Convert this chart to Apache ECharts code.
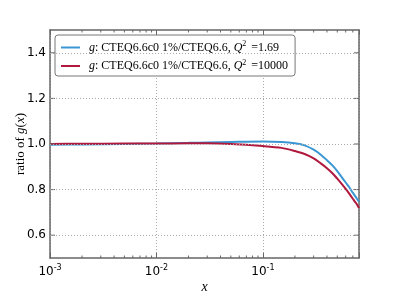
<!DOCTYPE html>
<html><head><meta charset="utf-8">
<script src="https://cdn.jsdelivr.net/npm/echarts@6/dist/echarts.min.js"></script>
<style>html,body{margin:0;padding:0;background:#fff}#c{width:399px;height:299px}</style>
</head><body><div id="c"></div>
<script>
const xValues = [0.001,0.002,0.005,0.01,0.02,0.03,0.05,0.1,0.15,0.2,0.25,0.3,0.35,0.4,0.45,0.5,0.55,0.6,0.65,0.7,0.75,0.8];
const lowQ  = [0.997,0.998,1.000,1.002,1.005,1.007,1.009,1.011,1.009,1.003,0.993,0.975,0.953,0.929,0.906,0.881,0.855,0.831,0.809,0.786,0.766,0.747];
const highQ = [1.000,1.001,1.002,1.002,1.003,1.003,1.000,0.991,0.983,0.969,0.955,0.937,0.915,0.894,0.872,0.848,0.825,0.803,0.781,0.760,0.741,0.719];
const yTicks = [0.6,0.8,1.0,1.2,1.4];
const minorX = [2e-3,3e-3,4e-3,5e-3,6e-3,7e-3,8e-3,9e-3,2e-2,3e-2,4e-2,5e-2,6e-2,7e-2,8e-2,9e-2,0.2,0.3,0.4,0.5,0.6,0.7];
const seriesNames = ['g1.69','g10000'];
const q2Labels = ['1.69','10000'];

const chart = echarts.init(document.getElementById('c'));
const frame = '#666';
const serif = '"Liberation Serif", serif';
const sans = '"DejaVu Sans", sans-serif';
function logLabel(v){
  const e = Math.round(Math.log10(v));
  if (Math.abs(v - Math.pow(10,e)) / v > 1e-6) return '';
  return '10{sup|' + e + '}';
}
const xAxisBase = {
  type:'log', logBase:10, min:0.001, max:0.8,
  axisLine:{show:true, onZero:false, lineStyle:{color:frame, width:1.5}},
  axisTick:{show:true, inside:true, length:5, lineStyle:{color:frame}},
  splitLine:{show:false}
};
const yAxisBase = {
  type:'value', min:0.5, max:1.5, interval:0.1,
  axisLine:{show:true, lineStyle:{color:frame, width:1.5}},
  axisTick:{show:false},
  splitLine:{show:false}
};
chart.setOption({
  animation:false,
  grid:{left:50, right:40, top:30, bottom:38},
  legend:{
    left:55, top:35, orient:'vertical',
    padding:[5,7,4,6], itemGap:5, itemWidth:19, itemHeight:2,
    borderColor:'#777', borderWidth:1, borderRadius:3, backgroundColor:'#fff',
    icon:'rect',
    formatter:function(name){
      const i = seriesNames.indexOf(name);
      return '{g|g}{n|: CTEQ6.6c0 1%/CTEQ6.6, }{i|Q}{s|2}{n| =' + q2Labels[i] + '}';
    },
    textStyle:{
      fontFamily:serif, fontSize:12, color:'#000',
      rich:{
        g:{fontFamily:serif, fontStyle:'italic', fontSize:12, color:'#000', padding:[0,0,0,4]},
        i:{fontFamily:serif, fontStyle:'italic', fontSize:12, color:'#000'},
        n:{fontFamily:serif, fontSize:12, color:'#000'},
        s:{fontFamily:serif, fontSize:8, color:'#000', verticalAlign:'bottom', padding:[0,2,7,0]}
      }
    }
  },
  xAxis:[
    Object.assign({}, xAxisBase, {
      position:'bottom',
      name:'{i|x}', nameLocation:'middle', nameGap:22, nameMoveOverlap:false,
      nameTextStyle:{rich:{i:{fontFamily:serif, fontStyle:'italic', fontSize:14, color:'#000'}}},
      axisLabel:{formatter:logLabel, margin:6, color:'#000', fontFamily:sans, fontSize:12,
        rich:{sup:{fontFamily:sans, fontSize:8, color:'#000', verticalAlign:'bottom', padding:[0,0,8,0]}}},
      splitLine:{show:true, lineStyle:{color:'#aaa', type:[1,2], width:1}}
    }),
    Object.assign({}, xAxisBase, {position:'top', axisLabel:{show:false}})
  ],
  yAxis:[
    Object.assign({}, yAxisBase, {
      position:'left',
      name:'{n|ratio of }{i|g}{n|(}{i|x}{n|)}', nameLocation:'middle', nameGap:23, nameMoveOverlap:false,
      nameTextStyle:{rich:{
        n:{fontFamily:serif, fontSize:13, color:'#000'},
        i:{fontFamily:serif, fontStyle:'italic', fontSize:13, color:'#000'}}},
      axisLabel:{color:'#000', fontFamily:sans, fontSize:12, margin:4,
        formatter:function(v){
          const r = Math.round(v*10)/10;
          return yTicks.some(t=>Math.abs(t-r)<1e-9) ? r.toFixed(1) : '';
        }}
    }),
    Object.assign({}, yAxisBase, {position:'right', axisLabel:{show:false}})
  ],
  series:[
    {
      name:seriesNames[0], type:'line', smooth:0.3, showSymbol:false, symbol:'none',
      data:xValues.map((x,i)=>[x,lowQ[i]]),
      lineStyle:{color:'#3a97d3', width:2}, itemStyle:{color:'#3a97d3'}, z:3,
      markLine:{
        silent:true, symbol:'none', label:{show:false}, animation:false,
        lineStyle:{color:'#aaa', type:[1,2], width:1},
        data:yTicks.map(t=>({yAxis:t}))
      }
    },
    {
      name:seriesNames[1], type:'line', smooth:0.3, showSymbol:false, symbol:'none',
      data:xValues.map((x,i)=>[x,highQ[i]]),
      lineStyle:{color:'#b1183d', width:2}, itemStyle:{color:'#b1183d'}, z:3
    },
    {
      type:'custom', silent:true, z:4,
      data:yTicks.map(t=>[t]),
      renderItem:function(params, api){
        const y = api.coord([0.001, api.value(0)])[1];
        const r = params.coordSys;
        return {type:'group', children:[
          {type:'line', shape:{x1:r.x, y1:y, x2:r.x+5, y2:y}, style:{stroke:frame, lineWidth:1}},
          {type:'line', shape:{x1:r.x+r.width, y1:y, x2:r.x+r.width-5, y2:y}, style:{stroke:frame, lineWidth:1}}
        ]};
      }
    },
    {
      type:'custom', silent:true, z:4,
      data:minorX.map(v=>[v]),
      renderItem:function(params, api){
        const x = api.coord([api.value(0), 1])[0];
        const r = params.coordSys;
        return {type:'group', children:[
          {type:'line', shape:{x1:x, y1:r.y+r.height, x2:x, y2:r.y+r.height-2.5}, style:{stroke:frame, lineWidth:1}},
          {type:'line', shape:{x1:x, y1:r.y, x2:x, y2:r.y+2.5}, style:{stroke:frame, lineWidth:1}}
        ]};
      }
    }
  ]
});
</script></body></html>
